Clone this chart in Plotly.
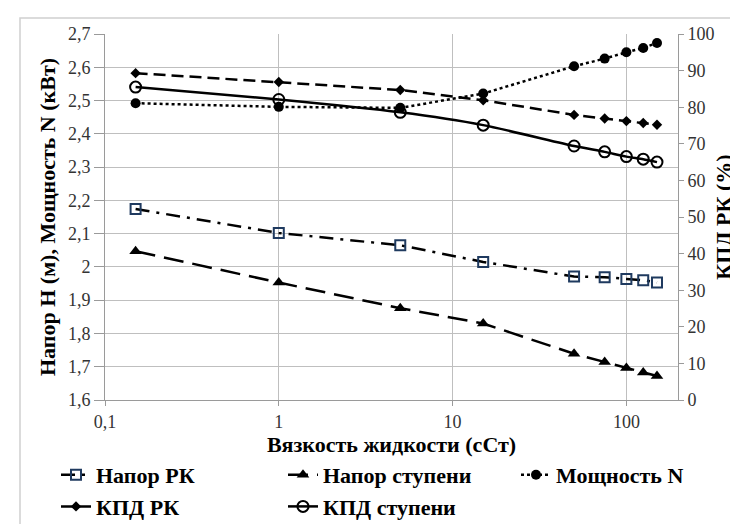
import plotly.graph_objects as go

viscosity = [0.15, 1, 5, 15, 50, 75, 100, 125, 150]
head_rk = [2.174, 2.102, 2.065, 2.015, 1.971, 1.969, 1.964, 1.960, 1.953]
head_stage = [2.047, 1.953, 1.876, 1.830, 1.739, 1.714, 1.696, 1.683, 1.672]
power_n = [2.492, 2.481, 2.478, 2.521, 2.603, 2.626, 2.645, 2.658, 2.673]
eff_rk = [89.3, 86.9, 84.7, 81.9, 77.9, 76.9, 76.2, 75.7, 75.2]
eff_stage = [85.5, 82.1, 78.6, 75.1, 69.4, 67.8, 66.5, 65.8, 65.0]

x_tickvals = [0.1, 1, 10, 100]
x_ticktext = ["0,1", "1", "10", "100"]
y_tickvals = [1.6, 1.7, 1.8, 1.9, 2.0, 2.1, 2.2, 2.3, 2.4, 2.5, 2.6, 2.7]
y_ticktext = ["1,6", "1,7", "1,8", "1,9", "2", "2,1", "2,2", "2,3", "2,4", "2,5", "2,6", "2,7"]
y2_tickvals = [0, 10, 20, 30, 40, 50, 60, 70, 80, 90, 100]

SERIF = "Liberation Serif"
fig = go.Figure()

fig.add_trace(go.Scatter(
    x=viscosity, y=head_rk, name="<b>Напор РК</b>", mode="lines+markers", legend="legend",
    line=dict(color="black", width=2.5, dash="14px,7px,3px,7px"),
    marker=dict(symbol="square-open", size=10, color="#1F3A5F", line=dict(width=2, color="#1F3A5F")),
))
fig.add_trace(go.Scatter(
    x=viscosity, y=head_stage, name="<b>Напор ступени</b>", mode="lines+markers", legend="legend2",
    line=dict(color="black", width=2.5, dash="20px,9px"),
    marker=dict(symbol="triangle-up", size=11, color="black"),
))
fig.add_trace(go.Scatter(
    x=viscosity, y=power_n, name="<b>Мощность N</b>", mode="lines+markers", legend="legend3",
    line=dict(color="black", width=2.5, dash="dot"),
    marker=dict(symbol="circle", size=10, color="black"),
))
fig.add_trace(go.Scatter(
    x=viscosity, y=eff_rk, name="<b>КПД РК</b>", mode="lines+markers", yaxis="y2", legend="legend",
    line=dict(color="black", width=2.5, dash="12px,6px"),
    marker=dict(symbol="diamond", size=8, color="black"),
))
fig.add_trace(go.Scatter(
    x=viscosity, y=eff_stage, name="<b>КПД ступени</b>", mode="lines+markers", yaxis="y2", legend="legend2",
    line=dict(color="black", width=2.5, shape="spline", smoothing=0.6),
    marker=dict(symbol="circle-open", size=11, color="black", line=dict(width=2, color="black")),
))

W, H = 738, 524
L, R, T, B = 97, 68, 26, 132
pw, ph = W - L - R, H - T - B

legend_font = dict(family=SERIF, size=22, color="black")
legend_y = (H - B - 446) / ph


def legend_at(px):
    return dict(
        orientation="v", xref="paper", yref="paper",
        x=(px - L) / pw, y=legend_y, xanchor="left", yanchor="top",
        font=legend_font, bgcolor="rgba(0,0,0,0)", itemwidth=30, tracegroupgap=0,
    )


fig.update_layout(
    width=W, height=H,
    margin=dict(l=L, r=R, t=T, b=B, autoexpand=False),
    paper_bgcolor="white", plot_bgcolor="white",
    font=dict(family=SERIF, size=18),
    xaxis=dict(
        type="log", range=[-1, 2.297],
        tickvals=x_tickvals, ticktext=x_ticktext,
        showgrid=True, gridcolor="#BFBFBF", gridwidth=1,
        showline=True, linecolor="#9A9A9A", linewidth=1,
        ticks="outside", ticklen=5, tickcolor="#9A9A9A",
        tickfont=dict(family=SERIF, size=18, color="#333"),
        title=dict(text="<b>Вязкость жидкости (сСт)</b>",
                   font=dict(family=SERIF, size=22, color="black"), standoff=4),
        zeroline=False,
    ),
    yaxis=dict(
        range=[1.6, 2.7], tickvals=y_tickvals, ticktext=y_ticktext,
        showgrid=True, gridcolor="#BFBFBF", gridwidth=1,
        showline=True, linecolor="#9A9A9A", linewidth=1,
        ticks="outside", ticklen=10, tickcolor="#9A9A9A",
        tickfont=dict(family=SERIF, size=18, color="#333"),
        title=dict(text="<b>Напор H (м), Мощность N (кВт)</b>",
                   font=dict(family=SERIF, size=22, color="black"), standoff=6),
        zeroline=False,
    ),
    yaxis2=dict(
        overlaying="y", side="right",
        range=[0, 100], tickvals=y2_tickvals,
        showgrid=False,
        showline=True, linecolor="#9A9A9A", linewidth=1,
        ticks="outside", ticklen=5, tickcolor="#9A9A9A",
        tickfont=dict(family=SERIF, size=18, color="#333"),
        title=dict(text="<b>КПД РК (%)</b>",
                   font=dict(family=SERIF, size=22, color="black"), standoff=2),
        zeroline=False,
    ),
    legend=legend_at(48),
    legend2=legend_at(275),
    legend3=legend_at(508),
    showlegend=True,
)

fig.add_shape(
    type="rect", xref="paper", yref="paper",
    x0=(12 - L) / pw, x1=(W + 5 - L) / pw,
    y0=(H - B - (H + 5)) / ph, y1=(H - B - 10) / ph,
    line=dict(color="#D0D0D0", width=1.5), fillcolor="rgba(0,0,0,0)", layer="below",
)

fig.write_html("out.html")
